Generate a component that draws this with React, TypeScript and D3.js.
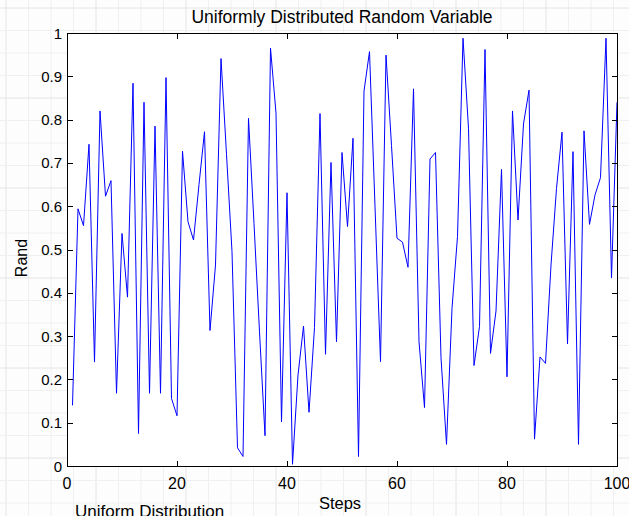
import React from "react";
import * as d3 from "d3";

const steps: number[] = Array.from({ length: 100 }, (_, i) => i + 1);
const randValues: number[] = [
  0.14, 0.594, 0.555, 0.743, 0.24, 0.82, 0.623, 0.659, 0.168, 0.537,
  0.39, 0.884, 0.075, 0.84, 0.168, 0.785, 0.168, 0.897, 0.156, 0.116,
  0.727, 0.564, 0.522, 0.65, 0.772, 0.313, 0.464, 0.941, 0.72, 0.495,
  0.042, 0.022, 0.803, 0.56, 0.31, 0.07, 0.965, 0.815, 0.102, 0.631,
  0.004, 0.21, 0.323, 0.124, 0.32, 0.814, 0.258, 0.701, 0.287, 0.724,
  0.553, 0.757, 0.022, 0.866, 0.957, 0.6, 0.241, 0.949, 0.74, 0.526,
  0.517, 0.459, 0.871, 0.287, 0.135, 0.709, 0.724, 0.25, 0.05, 0.364,
  0.53, 0.988, 0.78, 0.232, 0.322, 0.962, 0.26, 0.358, 0.685, 0.206,
  0.82, 0.568, 0.79, 0.868, 0.062, 0.252, 0.237, 0.464, 0.641, 0.771,
  0.282, 0.726, 0.05, 0.774, 0.558, 0.626, 0.666, 0.988, 0.434, 0.84,
];
const xTicks: number[] = [0, 20, 40, 60, 80, 100];
const yTicks: number[] = [0, 0.1, 0.2, 0.3, 0.4, 0.5, 0.6, 0.7, 0.8, 0.9, 1];
const yTickLabels: string[] = ["0", "0.1", "0.2", "0.3", "0.4", "0.5", "0.6", "0.7", "0.8", "0.9", "1"];

const W = 629;
const H = 516;
const L = 67, R = 617, T = 33, B = 466;
const FONT = "'Liberation Sans', Arial, Helvetica, sans-serif";

export default function App() {
  const x = d3.scaleLinear().domain([0, 100]).range([L, R]);
  const y = d3.scaleLinear().domain([0, 1]).range([B, T]);
  const line = d3
    .line<number>()
    .x((_, i) => x(steps[i]))
    .y((d) => y(d));

  const gridV: number[] = d3.range(6, W, 22.5);
  const gridH: number[] = d3.range(8, H, 22.5);
  const tk = 5;

  return (
    <svg
      width={W}
      height={H}
      style={{ position: "absolute", left: 0, top: 0, background: "#fdfdfd" }}
    >
      <defs>
        <clipPath id="plotclip">
          <rect x={L} y={T - 1} width={R - L + 1} height={B - T + 2} />
        </clipPath>
      </defs>
      {gridV.map((gx, i) => (
        <line key={"gv" + i} x1={gx} x2={gx} y1={0} y2={H} stroke={i % 4 === 0 ? "#e4e4e4" : "#f0f0f0"} strokeWidth={1} />
      ))}
      {gridH.map((gy, i) => (
        <line key={"gh" + i} x1={0} x2={W} y1={gy} y2={gy} stroke={i % 4 === 0 ? "#e4e4e4" : "#f0f0f0"} strokeWidth={1} />
      ))}
      <rect x={L} y={T} width={R - L} height={B - T} fill="#ffffff" />
      <path
        d={line(randValues) || ""}
        fill="none"
        stroke="#0000ff"
        strokeWidth={1}
        clipPath="url(#plotclip)"
      />
      <rect x={L + 0.5} y={T + 0.5} width={R - L} height={B - T} fill="none" stroke="#000" strokeWidth={1} />
      {xTicks.map((t) => (
        <g key={"xt" + t}>
          <line x1={Math.round(x(t)) + 0.5} x2={Math.round(x(t)) + 0.5} y1={B} y2={B - tk} stroke="#000" />
          <line x1={Math.round(x(t)) + 0.5} x2={Math.round(x(t)) + 0.5} y1={T + 1} y2={T + 1 + tk} stroke="#000" />
          <text x={x(t)} y={489} textAnchor="middle" fontFamily={FONT} fontSize={16} fill="#000">
            {t}
          </text>
        </g>
      ))}
      {yTicks.map((t, i) => (
        <g key={"yt" + t}>
          <line x1={L + 1} x2={L + 1 + tk} y1={Math.round(y(t)) + 0.5} y2={Math.round(y(t)) + 0.5} stroke="#000" />
          <line x1={R} x2={R - tk} y1={Math.round(y(t)) + 0.5} y2={Math.round(y(t)) + 0.5} stroke="#000" />
          <text x={L - 5} y={y(t) + 5.5} textAnchor="end" fontFamily={FONT} fontSize={15} fill="#000">
            {yTickLabels[i]}
          </text>
        </g>
      ))}
      <text x={342} y={23} textAnchor="middle" fontFamily={FONT} fontSize={17.5} fill="#000">
        Uniformly Distributed Random Variable
      </text>
      <text x={340} y={509} textAnchor="middle" fontFamily={FONT} fontSize={16.5} fill="#000">
        Steps
      </text>
      <text
        transform={`translate(27, 258) rotate(-90)`}
        textAnchor="middle"
        fontFamily={FONT}
        fontSize={16}
        fill="#000"
      >
        Rand
      </text>
      <text x={75} y={517} fontFamily={FONT} fontSize={17} fill="#000">
        Uniform Distribution
      </text>
    </svg>
  );
}
